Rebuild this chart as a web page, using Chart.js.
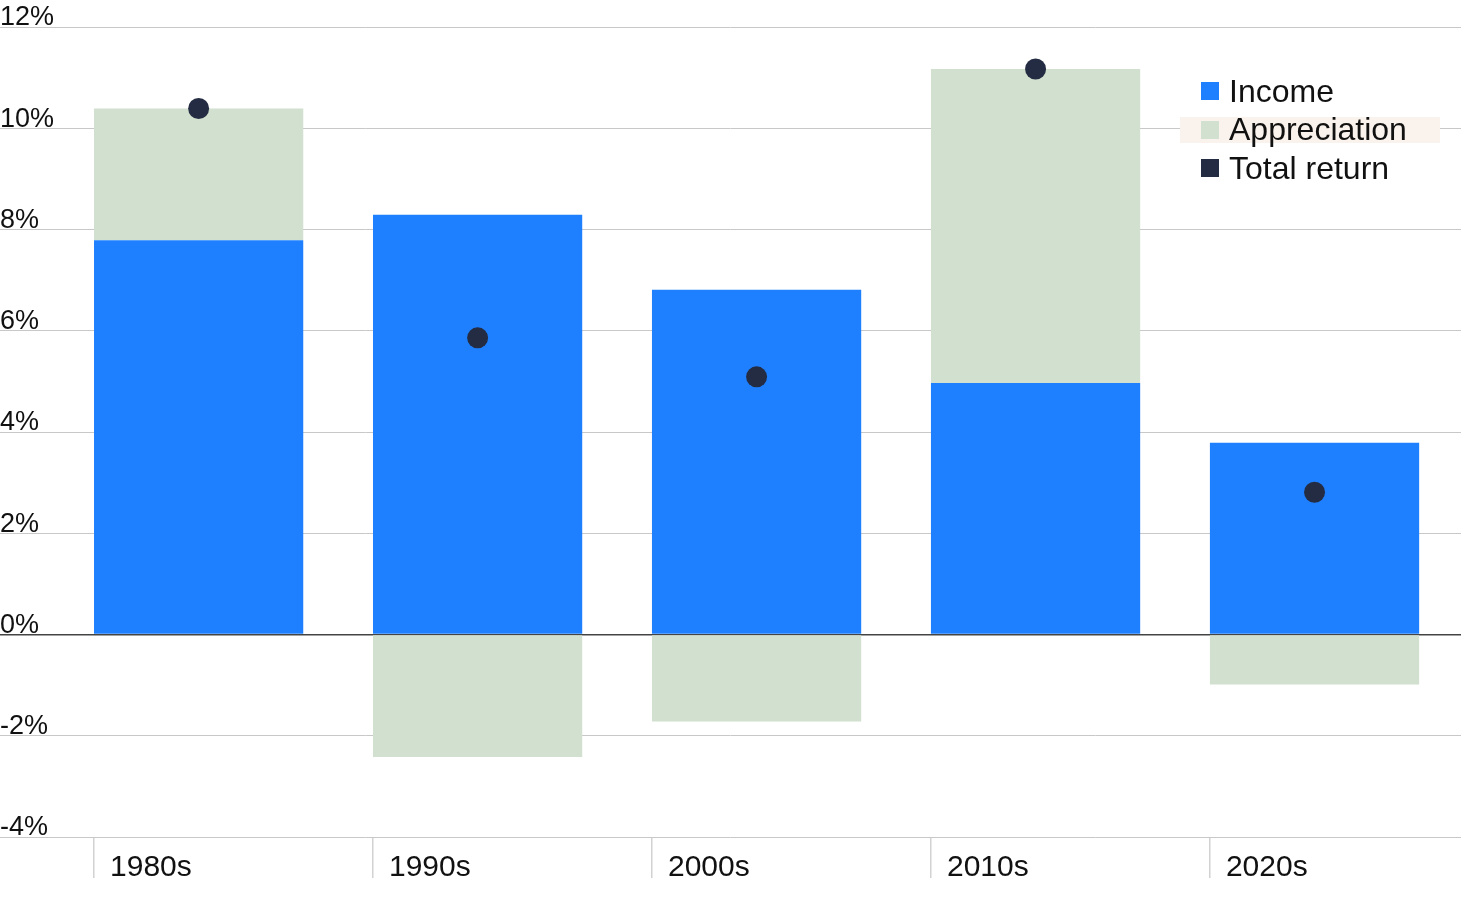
<!DOCTYPE html>
<html>
<head>
<meta charset="utf-8">
<script src="https://cdn.jsdelivr.net/npm/chart.js@4/dist/chart.umd.min.js"></script>
<style>
  body { margin: 0; background: #fff; overflow: hidden; }
  #wrap { position: relative; width: 1461px; height: 901px; }
  #legend { position: absolute; left: 1180px; top: 72px; font-family: "Liberation Sans", Arial, sans-serif; font-size: 32px; color: #111; }
  .item { display: flex; align-items: center; height: 38.5px; padding-left: 21px; width: 239px; }
  .item.hl { background: #faf2ec; height: 26px; margin: 6px 0 6.5px; }
  .sw { width: 18px; height: 18px; margin-right: 10px; }
</style>
</head>
<body>
<div id="wrap">
  <canvas id="chart" width="1461" height="901"></canvas>
  <div id="legend"></div>
</div>
<script>
const decades = ["1980s", "1990s", "2000s", "2010s", "2020s"];
const income = [7.79, 8.29, 6.81, 4.97, 3.79];
const appreciation = [2.60, -2.42, -1.72, 6.20, -0.99];
const totalReturn = [10.39, 5.86, 5.09, 11.17, 2.81];
const yTicks = [-4, -2, 0, 2, 4, 6, 8, 10, 12];

const colors = { income: "#1f80ff", appreciation: "#d2e0cf", total: "#232c42" };
const FONT = "'Liberation Sans', Arial, sans-serif";

// bars sit on the left 3/4 of each decade slot
const toPoints = (arr) => arr.map((v, i) => ({ x: i + 0.375, y: v }));

const chart = new Chart(document.getElementById("chart"), {
  type: "bar",
  data: {
    datasets: [
      {
        type: "line",
        label: "Total return",
        data: toPoints(totalReturn),
        showLine: false,
        pointRadius: 10.5,
        pointBorderWidth: 0,
        pointBackgroundColor: colors.total,
        backgroundColor: colors.total,
        stack: "total",
        order: 0,
      },
      {
        label: "Income",
        data: toPoints(income),
        backgroundColor: colors.income,
        stack: "bars",
        order: 1,
      },
      {
        label: "Appreciation",
        data: toPoints(appreciation),
        backgroundColor: colors.appreciation,
        stack: "bars",
        order: 1,
      },
    ],
  },
  options: {
    responsive: false,
    animation: false,
    devicePixelRatio: 1,
    layout: { autoPadding: false, padding: { top: 27, bottom: 19, left: 0, right: 0 } },
    datasets: { bar: { barPercentage: 0.75, categoryPercentage: 1 } },
    plugins: { legend: { display: false }, tooltip: { enabled: false } },
    scales: {
      x: {
        type: "linear",
        offset: false,
        min: -0.337,
        max: 4.9,
        afterBuildTicks: (scale) => {
          scale.ticks = decades.map((d, i) => ({ value: i }));
        },
        ticks: {
          callback: (v) => decades[v],
          align: "start",
          labelOffset: 16,
          padding: -28,
          maxRotation: 0,
          autoSkip: false,
          color: "#111",
          font: { family: FONT, size: 30 },
        },
        // empty title only gives the tick labels room below the axis
        title: { display: true, text: "", font: { size: 20 }, padding: 0 },
        grid: {
          offset: false,
          drawOnChartArea: false,
          drawTicks: true,
          tickLength: 41,
          color: "#d2d2d2",
          lineWidth: 1.5,
        },
        border: { display: false },
      },
      y: {
        min: -4,
        max: 12,
        afterBuildTicks: (scale) => {
          scale.ticks = yTicks.map((v) => ({ value: v }));
        },
        ticks: {
          callback: (v) => v + "%",
          mirror: true,
          padding: 0,
          labelOffset: -9,
          color: "#111",
          font: { family: FONT, size: 27 },
        },
        grid: {
          drawTicks: false,
          color: (ctx) => (ctx.tick && ctx.tick.value === 0 ? "#444" : "#c8c8c8"),
          lineWidth: (ctx) => (ctx.tick && ctx.tick.value === 0 ? 1.5 : 1),
        },
        border: { display: false },
      },
    },
  },
});

// legend: Income, Appreciation, Total return
const legend = document.getElementById("legend");
[
  ["Income", colors.income, ""],
  ["Appreciation", colors.appreciation, "hl"],
  ["Total return", colors.total, ""],
].forEach(([name, col, cls]) => {
  const row = document.createElement("div");
  row.className = "item " + cls;
  row.innerHTML = '<span class="sw" style="background:' + col + '"></span><span>' + name + "</span>";
  legend.appendChild(row);
});
</script>
</body>
</html>
